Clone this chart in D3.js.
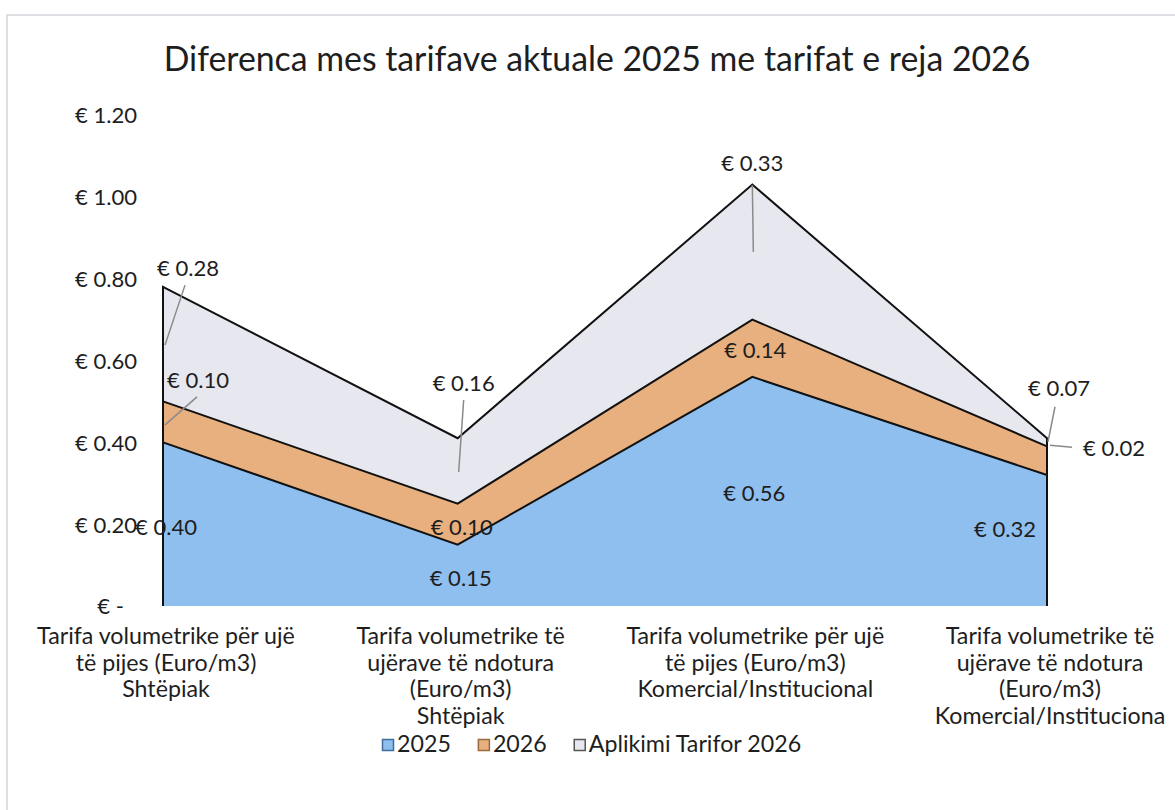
<!DOCTYPE html>
<html>
<head>
<meta charset="utf-8">
<script src="https://cdn.jsdelivr.net/npm/d3@7"></script>
<style>
  html, body { margin: 0; padding: 0; background: #fff; }
  svg text { font-family: Lato, "Open Sans", sans-serif; fill: #1e1e1e; }
</style>
</head>
<body>
<svg id="chart" width="1175" height="810"></svg>
<script>
// ---- data ----
const categories = [
  ["Tarifa volumetrike për ujë", "të pijes (Euro/m3)", "Shtëpiak"],
  ["Tarifa volumetrike të", "ujërave të ndotura", "(Euro/m3)", "Shtëpiak"],
  ["Tarifa volumetrike për ujë", "të pijes (Euro/m3)", "Komercial/Institucional"],
  ["Tarifa volumetrike të", "ujërave të ndotura", "(Euro/m3)", "Komercial/Instituciona"]
];
const seriesNames = ["2025", "2026", "Aplikimi Tarifor 2026"];
const values2025 = [0.40, 0.15, 0.56, 0.32];
const values2026 = [0.10, 0.10, 0.14, 0.07];
const valuesAplikimi = [0.28, 0.16, 0.33, 0.02];
const yTicks = [0, 0.2, 0.4, 0.6, 0.8, 1.0, 1.2];
const title = "Diferenca mes tarifave aktuale 2025 me tarifat e reja 2026";

// ---- styles / layout ----
const colors = ["#8fbfef", "#e8b07e", "#e7e7f0"];
const legendStroke = ["#3f6d9c", "#9a6a3e", "#555"];
// label offsets from the band centre: [series, point, dx, dy, leader start rel label (x,y), leader end rel centre (x,y)]
const labelCfg = [
  [0, 0, 3, 3], [0, 1, 3, 3], [0, 2, 2, 2], [0, 3, -42, -11],
  [1, 0, 35, -42, -1, 17, 2, 3], [1, 1, 4, 3], [1, 2, 3, 2], [1, 3, 12, -73, -4, 19, 1, -19],
  [2, 0, 25, -76, -3, 17, 2, 1], [2, 1, 6, -88, 0, 17, 1, 1], [2, 2, 0, -89, 0, 22, 1, 0], [2, 3, 67, 6, -42, -1, 3, 3]
];

const svg = d3.select("#chart");

// outer border
svg.append("rect").attr("x", 7).attr("y", 15).attr("width", 1300).attr("height", 1000)
  .attr("fill", "none").attr("stroke", "#d4d4dc").attr("stroke-width", 1.5);

const x = d3.scalePoint().domain(d3.range(categories.length)).range([163, 1047]);
const y = d3.scaleLinear().domain([0, 1.2]).range([606, 115]);

function fitSize(sel, target, base) {
  sel.style("font-size", base + "px");
  const w = sel.node().getComputedTextLength();
  const s = base * target / w;
  sel.style("font-size", s + "px");
  return s;
}

// title
const t = svg.append("text").attr("x", 597).attr("y", 71).attr("text-anchor", "middle").text(title);
fitSize(t, 867, 30);

// measure small font size
const probe = svg.append("text").text(categories[0][0]);
const fs = fitSize(probe, 258, 20);
probe.remove();

// stacked data
const table = categories.map((c, i) => ({ i, s0: values2025[i], s1: values2026[i], s2: valuesAplikimi[i] }));
const stack = d3.stack().keys(["s0", "s1", "s2"]);
const layers = stack(table);

const area = d3.area().x((d, i) => x(i)).y0(d => y(d[0])).y1(d => y(d[1]));
svg.append("g").selectAll("path").data(layers).join("path")
  .attr("d", area).attr("fill", (d, i) => colors[i]);

// outlines: left side, top, right side (no baseline)
layers.forEach((L) => {
  const n = L.length;
  const pts = [[x(0), y(L[0][0])], [x(0), y(L[0][1])]];
  L.forEach((d, i) => pts.push([x(i), y(d[1])]));
  pts.push([x(n - 1), y(L[n - 1][0])]);
  svg.append("path").attr("d", d3.line()(pts)).attr("fill", "none")
    .attr("stroke", "#111").attr("stroke-width", 2).attr("stroke-linejoin", "miter");
});

// y axis
const yAxis = d3.axisLeft(y).tickValues(yTicks).tickSize(0).tickPadding(0)
  .tickFormat(d => d === 0 ? "€ -" : "€ " + d.toFixed(2));
const ga = svg.append("g").attr("transform", "translate(137,0)").call(yAxis);
ga.select(".domain").remove();
ga.selectAll("text").style("font-family", "Lato, 'Open Sans', sans-serif").style("font-size", (fs * 0.95) + "px")
  .attr("fill", "#1e1e1e").attr("dy", "0.36em")
  .attr("x", d => d === 0 ? -13 : 0);

// category labels
const lh = 26.7;
categories.forEach((lines, i) => {
  const tx = svg.append("text").attr("text-anchor", "middle").style("font-size", fs + "px");
  lines.forEach((ln, k) => {
    tx.append("tspan").attr("x", x(i) + 3).attr("y", 644 + k * lh).text(ln);
  });
});

// data labels
const valuesBySeries = [values2025, values2026, valuesAplikimi];
labelCfg.forEach(c => {
  const [s, i, dx, dy] = c;
  const d = layers[s][i];
  const cx = x(i), cy = y((d[0] + d[1]) / 2);
  const lx = cx + dx, ly = cy + dy;
  if (c.length > 4) {
    svg.append("line")
      .attr("x1", lx + c[4]).attr("y1", ly + c[5])
      .attr("x2", cx + c[6]).attr("y2", cy + c[7])
      .attr("stroke", "#8a8a8a").attr("stroke-width", 1.5);
  }
  svg.append("text").attr("x", lx).attr("y", ly).attr("dy", "0.36em")
    .attr("text-anchor", "middle").style("font-size", (fs * 0.95) + "px")
    .text("€ " + valuesBySeries[s][i].toFixed(2));
});

// legend
const lg = svg.append("g");
let lxPos = 382;
seriesNames.forEach((nm, i) => {
  lg.append("rect").attr("x", lxPos + 0.5).attr("y", 739.5).attr("width", 11).attr("height", 11)
    .attr("fill", colors[i]).attr("stroke", legendStroke[i]).attr("stroke-width", 1.5);
  const tt = lg.append("text").attr("x", lxPos + 15).attr("y", 752).style("font-size", fs + "px").text(nm);
  lxPos += 15 + tt.node().getComputedTextLength() + 27;
});
</script>
</body>
</html>
